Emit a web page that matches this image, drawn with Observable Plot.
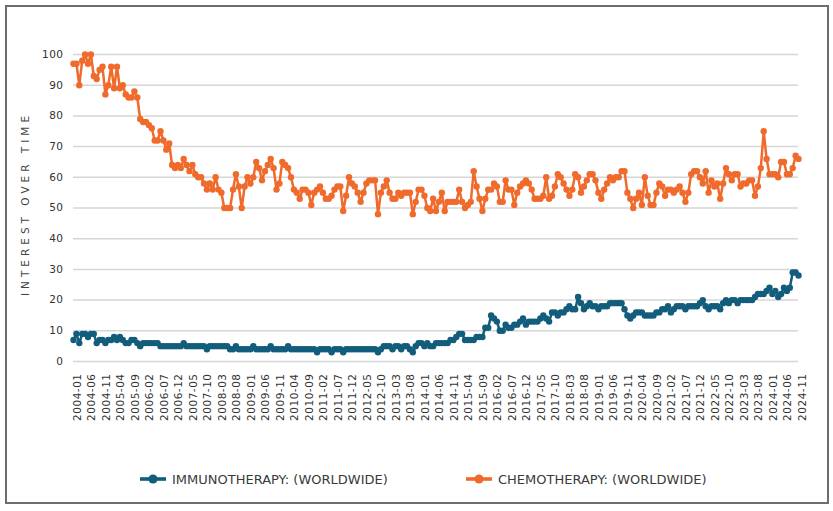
<!DOCTYPE html>
<html><head><meta charset="utf-8">
<script src="https://cdn.jsdelivr.net/npm/d3@7"></script>
<script src="https://cdn.jsdelivr.net/npm/@observablehq/plot@0.6"></script>
<style>
body{margin:0;background:#fff;}
#frame{position:absolute;left:5px;top:5px;width:824px;height:499px;border:2px solid #6d6d6d;box-sizing:border-box;background:#fff;overflow:hidden;}
#chart{position:absolute;left:0;top:0;}
#chart svg{font-family:"DejaVu Sans";}
.leg{position:absolute;top:463px;height:18px;display:flex;align-items:center;font-family:"DejaVu Sans";font-size:13px;color:#3a3a3a;white-space:nowrap;}
.leg svg{margin-right:6px;}
</style></head>
<body>
<div id="frame"><div id="chart"></div>
<div class="leg" id="leg1" style="left:133px"></div>
<div class="leg" id="leg2" style="left:459px"></div>
</div>
<script>
const seriesNames = ["IMMUNOTHERAPY: (WORLDWIDE)", "CHEMOTHERAPY: (WORLDWIDE)"];
const colors = ["#135d7c", "#f06a2c"];
const yTicks = [0,10,20,30,40,50,60,70,80,90,100];
const yTitle = "INTEREST OVER TIME";
const months = d3.utcMonth.range(new Date(Date.UTC(2004,0,1)), new Date(Date.UTC(2024,11,1))).map(d3.utcFormat("%Y-%m"));
const xTicks = months.filter((d,i) => i % 5 === 0);

const immuno = [
7,9,6,9,9,8,9,9,6,7,
7,6,7,7,8,7,8,7,6,6,
7,7,6,5,6,6,6,6,6,6,
5,5,5,5,5,5,5,5,6,5,
5,5,5,5,5,5,4,5,5,5,
5,5,5,5,4,4,5,4,4,4,
4,4,5,4,4,4,4,4,5,4,
4,4,4,4,5,4,4,4,4,4,
4,4,4,4,3,4,4,4,4,3,
4,4,4,3,4,4,4,4,4,4,
4,4,4,4,4,3,4,5,5,5,
4,5,5,4,5,5,4,3,5,6,
6,5,6,5,5,6,6,6,6,6,
7,7,8,9,9,7,7,7,7,8,
8,8,11,11,15,14,13,10,10,12,
11,11,12,12,13,14,12,13,13,13,
13,14,15,14,13,16,16,15,16,16,
17,18,17,17,21,19,17,18,19,18,
18,17,18,18,18,19,19,19,19,19,
17,15,14,15,16,16,16,15,15,15,
15,16,16,17,17,18,16,17,18,18,
18,17,18,18,18,18,19,20,18,17,
18,18,18,17,19,20,19,20,20,19,
20,20,20,20,20,21,22,22,22,23,
24,22,23,21,22,24,23,24,29,29,28
];
const chemo = [
97,97,90,98,100,97,100,93,92,95,
96,87,90,96,89,96,89,90,87,86,
86,88,86,79,78,78,77,76,72,72,
75,72,69,71,64,63,64,63,66,64,
62,64,61,60,60,58,56,58,56,60,
56,55,50,50,50,56,61,57,50,57,
60,58,60,65,63,59,62,64,66,63,
56,58,65,64,63,60,56,55,53,56,
56,55,51,55,56,57,55,53,53,54,
56,57,57,49,54,60,58,57,55,52,
55,58,59,59,59,48,55,57,59,55,
53,53,55,54,55,55,55,48,52,56,
56,54,50,49,53,49,52,55,49,52,
52,52,52,56,52,50,51,52,62,57,
53,49,53,56,56,58,57,52,52,59,
56,56,51,55,57,58,59,58,56,53,
53,53,54,60,53,54,57,61,60,58,
56,54,56,61,60,55,57,59,61,61,
59,55,53,56,58,60,59,60,60,62,
62,55,53,50,53,55,51,60,54,51,
51,55,58,57,54,56,56,55,56,57,
55,52,55,61,62,62,60,58,62,55,
59,57,58,53,58,63,61,59,61,61,
57,58,58,59,59,54,57,63,75,66,
61,61,61,60,65,65,61,61,63,67,66
];

const data = [
  ...months.map((m,i) => ({month:m, series:seriesNames[0], value:immuno[i]})),
  ...months.map((m,i) => ({month:m, series:seriesNames[1], value:chemo[i]}))
];

const plot = Plot.plot({
  width: 820, height: 430,
  marginLeft: 66, marginRight: 29, marginTop: 47, marginBottom: 76,
  x: {type: "point", domain: months, padding: 0},
  y: {domain: [0, 100]},
  color: {domain: seriesNames, range: colors},
  marks: [
    Plot.gridY(yTicks, {stroke: "#d6d6d6", strokeOpacity: 1, strokeWidth: 1.5}),
    Plot.axisY(yTicks, {tickSize: 0, tickPadding: 10, fontSize: 10.5, fill: "#333", label: null}),
    Plot.axisX(xTicks, {tickSize: 0, tickRotate: -90, tickPadding: 12, fontSize: 10.5, fill: "#333", label: null, dx: 4}),
    Plot.line(data, {x: "month", y: "value", z: "series", stroke: "series", strokeWidth: 2.5}),
    Plot.dot(data, {x: "month", y: "value", fill: "series", r: 3.2}),
    Plot.text([yTitle], {frameAnchor: "left", textAnchor: "middle", rotate: -90, dx: -47.5, dy: -4, fontSize: 10.5, fill: "#444"})
  ]
});
d3.select(plot).selectAll('g[aria-label="y-axis tick label"] text, g[aria-label="x-axis tick label"] text').style("letter-spacing", "0.5px");
d3.select(plot).selectAll('g[aria-label="text"] text').style("letter-spacing", "4px");
document.getElementById("chart").appendChild(plot);

function swatch(c){
  return `<svg width="26" height="12"><line x1="0" y1="6" x2="26" y2="6" stroke="${c}" stroke-width="3.6"/><circle cx="13" cy="6" r="4.6" fill="${c}"/></svg>`;
}
document.getElementById("leg1").innerHTML = swatch(colors[0]) + `<span>${seriesNames[0]}</span>`;
document.getElementById("leg2").innerHTML = swatch(colors[1]) + `<span>${seriesNames[1]}</span>`;
</script>
</body></html>
